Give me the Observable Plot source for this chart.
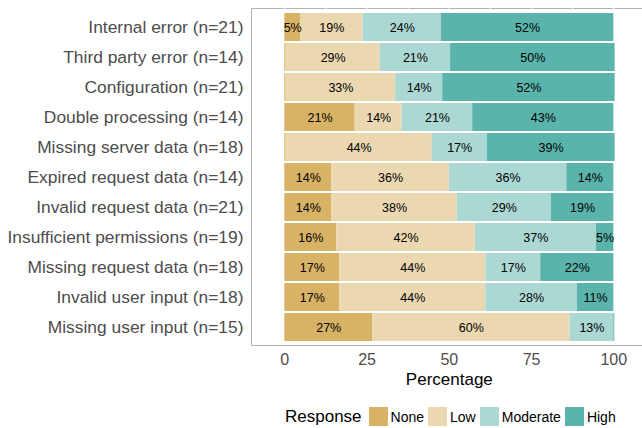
<!DOCTYPE html>
<html>
<head>
<meta charset="utf-8">
<script src="https://cdn.jsdelivr.net/npm/d3@7"></script>
<script src="https://cdn.jsdelivr.net/npm/@observablehq/plot@0.6"></script>
<style>
  html, body { margin: 0; padding: 0; background: white; }
  #wrap { position: relative; width: 642px; height: 428px; overflow: hidden; font-family: "Liberation Sans", Arial, sans-serif; }
  #chart { position: absolute; left: 0; top: 0; width: 650px; }
  #chart svg { max-width: none !important; }
  #legend { position: absolute; left: 285px; top: 407px; height: 19px; display: flex; align-items: center; color: black; white-space: nowrap; }
  #legend .title { font-size: 17px; margin-right: 7px; }
  #legend .sw { width: 19px; height: 19px; flex: none; }
  #legend .lab { font-size: 14px; margin-left: 3px; margin-right: 4px; }
</style>
</head>
<body>
<div id="wrap">
  <div id="chart"></div>
  <div id="legend"></div>
</div>
<script>
const categories = [
  "Internal error (n=21)",
  "Third party error (n=14)",
  "Configuration (n=21)",
  "Double processing (n=14)",
  "Missing server data (n=18)",
  "Expired request data (n=14)",
  "Invalid request data (n=21)",
  "Insufficient permissions (n=19)",
  "Missing request data (n=18)",
  "Invalid user input (n=18)",
  "Missing user input (n=15)"
];
const responses = ["None", "Low", "Moderate", "High"];
const colors = ["#d8b365", "#ebd8b1", "#acd8d4", "#5ab4ac"];

const noneValues     = [4.8, 0.4, 0.4, 21.4, 0.4, 14.3, 14.3, 15.8, 16.7, 16.7, 26.7];
const lowValues      = [19, 28.6, 33.3, 14.3, 44.4, 35.7, 38.1, 42.1, 44.4, 44.4, 60];
const moderateValues = [23.8, 21.4, 14.3, 21.4, 16.7, 35.7, 28.6, 36.8, 16.7, 27.8, 13.3];
const highValues     = [52.4, 50, 52.4, 42.9, 38.9, 14.3, 19, 5.3, 22.2, 11.1, 0.3];

const xTicks = [0, 25, 50, 75, 100];
const gridTicks = [0, 12.5, 25, 37.5, 50, 62.5, 75, 87.5, 100];

const series = [noneValues, lowValues, moderateValues, highValues];
const data = categories.flatMap((c, i) =>
  responses.map((r, j) => ({category: c, response: r, value: series[j][i]}))
);

const chart = Plot.plot({
  width: 650,
  height: 395,
  marginLeft: 251,
  marginRight: 0,
  marginTop: 8,
  marginBottom: 50,
  style: {fontFamily: "'Liberation Sans', Arial, sans-serif", fontSize: "16px", background: "white", color: "black", maxWidth: "none"},
  x: {domain: [-10.12, 111.15]},
  y: {domain: categories, paddingInner: 0.07, paddingOuter: 0.14},
  color: {domain: responses, range: colors},
  marks: [
    Plot.frame({stroke: "#b3b3b3"}),
    Plot.ruleX(gridTicks, {stroke: "white"}),
    Plot.barX(data, Plot.stackX({x: "value", y: "category", fill: "response", order: responses})),
    Plot.text(data, Plot.stackX({
      x: "value", y: "category", z: "response", order: responses,
      text: d => d.value >= 3 ? `${Math.round(d.value)}%` : null,
      fontSize: 12.5, fill: "black"
    })),
    Plot.axisX({ticks: xTicks, tickSize: 0, tickPadding: 8, fontSize: 16, fill: "#4d4d4d", label: null}),
    Plot.axisY({tickSize: 0, tickPadding: 8, fontSize: 17.4, fill: "#4d4d4d", label: null}),
    Plot.text(["Percentage"], {x: 50, frameAnchor: "bottom", lineAnchor: "top", dy: 27, fontSize: 17, fill: "black"})
  ]
});
chart.style.maxWidth = "none";
document.getElementById("chart").appendChild(chart);

const legend = document.getElementById("legend");
const t = document.createElement("span");
t.className = "title";
t.textContent = "Response";
legend.appendChild(t);
responses.forEach((r, i) => {
  const sw = document.createElement("span");
  sw.className = "sw";
  sw.style.background = colors[i];
  legend.appendChild(sw);
  const lab = document.createElement("span");
  lab.className = "lab";
  lab.textContent = r;
  legend.appendChild(lab);
});
</script>
</body>
</html>
